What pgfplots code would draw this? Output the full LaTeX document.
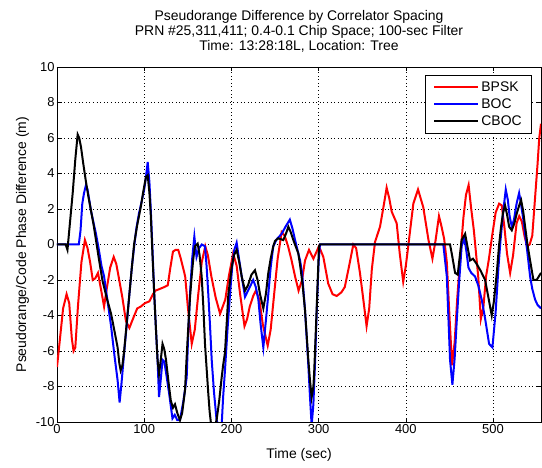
\documentclass[border=0pt]{standalone}
\usepackage{pgfplots}
\pgfplotsset{compat=1.18}
\usepackage{fontspec}
\setmainfont{Liberation Sans}
\newcommand{\mfont}{\fontsize{14}{15}\selectfont}
\newcommand{\tfont}{\fontsize{13}{14}\selectfont}
\begin{document}
\begin{tikzpicture}
\path[use as bounding box] (-57bp,-46bp) rectangle (485bp,422bp);
\begin{axis}[
 at={(0,0)}, anchor=south west,
 scale only axis, width=484bp, height=355bp,
 xmin=0, xmax=555, ymin=-10, ymax=10,
 xtick={0,100,...,500}, ytick={-10,-8,...,10},
 tick align=inside, xtick pos=both, ytick pos=both,
 major tick length=4bp,
 grid=major, grid style={black, line width=0.5pt, dash pattern=on 0.8bp off 2.8bp},
 axis line style={line width=0.6pt},
 every tick/.style={black, line width=0.6pt},
 tick label style={font=\tfont},
 xticklabel style={yshift=1bp},
 yticklabel style={xshift=1bp},
 /pgf/number format/assume math mode=true,
 title style={align=center, font=\mfont, yshift=5bp},
 title={Pseudorange Difference by Correlator Spacing\\PRN \#25,311,411; 0.4-0.1 Chip Space; 100-sec Filter\\Time: 13:28:18L, Location: Tree},
 xlabel={Time (sec)}, ylabel={Pseudorange/Code Phase Difference (m)},
 label style={font=\mfont},
 xlabel style={yshift=-8bp},
 ylabel style={yshift=0bp},
 legend style={at={(1,1)}, anchor=north east, xshift=-9bp, yshift=-8bp, draw=black, line width=0.6pt, font=\mfont, fill=white, row sep=2bp, inner xsep=8bp, inner ysep=4bp},
 legend cell align=left,
 legend image code/.code={\draw[#1] (0bp,0bp) -- (44bp,0bp);},
]
\addplot[red, line width=2bp, no marks] coordinates {
(0,-6.9) (3,-5.5) (7,-3.6) (11,-2.8) (14,-3.3) (17,-5.3) (19,-6.0) (21,-5.8) (24,-3.5) (28,-1.0) (32,0.25) (35,-0.2) (38,-1.0) (41,-2.0) (44,-1.9) (47,-1.6) (50,-2.4) (54,-3.5) (57,-2.5) (61,-1.3) (65,-0.7) (68,-1.1) (71,-1.9) (75,-3.0) (79,-4.3) (83,-4.7) (87,-4.2) (92,-3.6) (96,-3.5) (101,-3.3) (106,-3.2) (110,-2.8) (113,-2.6) (118,-2.5) (123,-2.4) (127,-2.3) (130,-1.3) (133,-0.4) (136,-0.3) (139,-0.3) (142,-0.8) (147,-1.8) (150,-3.5) (154.5,-5.6) (158,-4.8) (162,-2.8) (166,-1.0) (170,-0.1) (173,-0.6) (177,-1.8) (182,-3.0) (187,-3.9) (193,-3.1) (197,-1.8) (202,-0.5) (206,-1.2) (210,-2.8) (215,-4.6) (218,-4.2) (221,-3.5) (225,-2.9) (228,-2.6) (232,-3.1) (236,-4.5) (241.6,-5.7) (245,-4.8) (249,-2.8) (253,-0.8) (257.6,0.7) (261,0.5) (265,-0.1) (269,-0.9) (273,-1.8) (277,-2.6) (281,-2.0) (284.4,-0.9) (289,-0.3) (294,-0.8) (300.4,-0.1) (305.4,-0.7) (311,-2.2) (316,-2.8) (320.7,-2.9) (326,-2.7) (330,-2.4) (335,-1.2) (339.8,0) (343,-0.2) (347.4,-1.6) (351,-3.0) (355,-4.6) (358,-3.6) (361,-1.4) (364.7,0.15) (370.4,1.0) (375,2.3) (378,3.2) (381,2.6) (383.8,1.85) (389.5,1.2) (393,-0.5) (397,-2.1) (400,-1.2) (403,0) (408.6,2.3) (414,3.1) (420,2.1) (426,0.25) (430.5,-0.8) (434,0.2) (438,1.6) (441,1.0) (444,0.3) (447,-1.0) (450,-4.0) (453,-6.8) (456,-5.5) (459,-3.0) (462,-1.0) (466,1.5) (469,2.8) (472,3.35) (475,2.0) (478,0.8) (483,-1.8) (486,-4.2) (489,-3.5) (492,-1.8) (495,-0.9) (499,0.5) (503,1.8) (507,2.3) (510,2.2) (513,1.0) (516,-0.5) (519.6,-1.6) (523,-0.6) (527,1.2) (530,1.6) (533,1.3) (536,0.5) (539,-0.1) (542,0.0) (545,0.5) (548,2.5) (551,4.5) (553,6.0) (555,6.8)
};
\addlegendentry{BPSK}
\addplot[blue, line width=2bp, no marks] coordinates {
(0,0) (25,0) (27,0.8) (29,2.3) (31,2.9) (33,3.3) (35,3.1) (37,2.5) (39,1.9) (42,1.2) (44.7,0.6) (48,-0.3) (51,-1.2) (54,-1.8) (58,-3.2) (62,-4.6) (66,-6.3) (69.5,-7.65) (71.8,-8.9) (74,-7.8) (77,-6.1) (80,-4.5) (83,-2.8) (86,-1.2) (88.5,-0.1) (91,0.9) (94,1.75) (97,2.4) (100,3.1) (102,3.8) (104,4.65) (106,3.5) (107.6,1.9) (109.5,-0.3) (111.5,-2.8) (113.5,-4.8) (115.3,-6.5) (117,-8.6) (119,-7.6) (121,-6.5) (123,-6.6) (125,-7.2) (128.6,-8.4) (132.4,-9.8) (135,-9.6) (138,-9.9) (141,-9.9) (145,-8.8) (148.7,-7.5) (150.5,-5.0) (152.5,-2.8) (155,-0.8) (157.5,0.45) (160,-0.7) (163,-0.2) (166,0) (169.7,-0.1) (171.5,-1.2) (173.5,-2.8) (175.5,-4.6) (177.4,-6.5) (180,-8.3) (183,-9.9) (186,-10.3) (188.8,-10.2) (190.5,-8.6) (192.6,-7.1) (195.5,-4.8) (198.4,-2.8) (201,-1.2) (203.3,-0.3) (206,0.1) (209,-0.9) (211.8,-1.8) (215.6,-2.95) (220,-2.5) (225,-2.0) (228,-2.4) (230.9,-3.1) (233.5,-4.5) (236.6,-5.8) (239.5,-4.3) (242.3,-2.8) (245,-1.3) (248,-0.1) (252,0.3) (257.6,0.6) (262,1.0) (267,1.4) (270,0.9) (273,0.25) (278.7,-0.9) (281,-1.6) (284.4,-3.7) (288.2,-6.8) (290,-8.5) (292,-10.2) (294,-9.0) (296,-6.5) (298,-3.5) (300,-1.0) (301.5,0) (443,0) (447,-1.8) (450.7,-6.5) (453.4,-7.9) (456,-6.4) (458.4,-4.3) (461,-2.2) (464,-0.1) (467.2,0.35) (469.5,-0.4) (471.8,-1.3) (475,-1.6) (479.4,-1.8) (483,-2.3) (487,-3.1) (491,-4.2) (495.5,-5.6) (499.3,-5.8) (503,-3.8) (506.2,-1.3) (508.5,0.2) (510.8,1.4) (512.7,2.3) (514.6,3.1) (517,2.5) (519,1.6) (521.5,1.0) (524,1.4) (527,2.3) (529.9,2.9) (532,2.3) (534.5,1.5) (536.8,0.6) (539.5,-0.5) (542.5,-1.8) (545,-2.5) (548.2,-3.1) (551,-3.4) (555,-3.6)
};
\addlegendentry{BOC}
\addplot[black, line width=2bp, no marks] coordinates {
(0,0) (10,0) (12,-0.3) (15,1.3) (18,2.9) (21,4.8) (23.7,6.2) (25.5,6.0) (27.5,5.5) (30,4.6) (33,3.6) (36,2.7) (39,1.9) (42,1.1) (44.7,0.25) (48,-0.8) (52,-2.0) (57,-3.0) (62,-3.9) (66,-4.9) (69.5,-5.8) (71.5,-6.7) (73,-7.1) (75,-6.8) (77,-6.0) (80,-4.4) (83,-2.8) (86,-1.2) (88.5,0.05) (92,1.1) (96,2.1) (99,3.0) (102,3.8) (104,3.9) (106,2.9) (107.6,1.6) (109.5,-0.6) (111.5,-2.8) (113.5,-4.8) (115.3,-6.5) (117,-7.3) (119,-6.5) (121,-5.6) (123,-5.9) (125,-6.5) (128,-7.8) (130.5,-8.8) (133,-9.2) (135.3,-9.0) (138,-9.5) (141,-9.9) (143.5,-9.5) (146.8,-8.2) (148.5,-6.5) (150.6,-4.6) (152.5,-3.0) (154.4,-1.8) (156.3,-0.8) (158.2,-0.1) (161.3,0.05) (163.5,-0.6) (165.9,-1.8) (167.8,-3.5) (169.7,-5.6) (171.6,-7.0) (173.5,-8.4) (175,-9.4) (176.6,-10.1) (180,-10.4) (183,-9.9) (186,-8.8) (188.8,-7.5) (190.5,-6.8) (192.6,-6.1) (194.5,-4.5) (196.5,-2.8) (200.3,-1.3) (203,-0.6) (206,-0.3) (209,-1.0) (211.8,-1.8) (215.6,-2.6) (219,-2.3) (223,-1.7) (227,-1.45) (230,-2.0) (232.8,-2.8) (236.6,-3.6) (239.5,-2.8) (242.3,-1.6) (245,-0.8) (248,-0.1) (250,0.2) (253.8,0.35) (256.5,0.3) (259.5,0.25) (262.5,0.6) (265.3,1.0) (268,0.7) (271,0.25) (276.7,-0.5) (278.6,-1.1) (281.5,-2.2) (284.4,-3.7) (288.2,-6.5) (290,-7.6) (292,-8.6) (294,-8.0) (295,-7.1) (297.7,-3.7) (300.4,-0.1) (301.6,0) (450.7,0) (453,-0.6) (456.5,-1.6) (459.5,-1.7) (462,-0.6) (464,0.25) (468,0.6) (471,-0.2) (473.7,-0.9) (477,-0.8) (481.3,-1.1) (486,-1.5) (490.9,-2.0) (494,-2.8) (498.5,-4.0) (501,-3.2) (504.3,-1.6) (507,0) (509.2,1.0) (511.5,1.8) (513.8,2.2) (516,1.7) (518.5,1.0) (521.5,0.8) (524.5,1.2) (527.2,1.75) (530,2.2) (532.2,2.5) (534.5,1.9) (536.8,1.0) (539.5,0) (542.5,-0.9) (546.3,-2.0) (550,-2.0) (555,-1.6)
};
\addlegendentry{CBOC}
\end{axis}
\end{tikzpicture}
\end{document}
